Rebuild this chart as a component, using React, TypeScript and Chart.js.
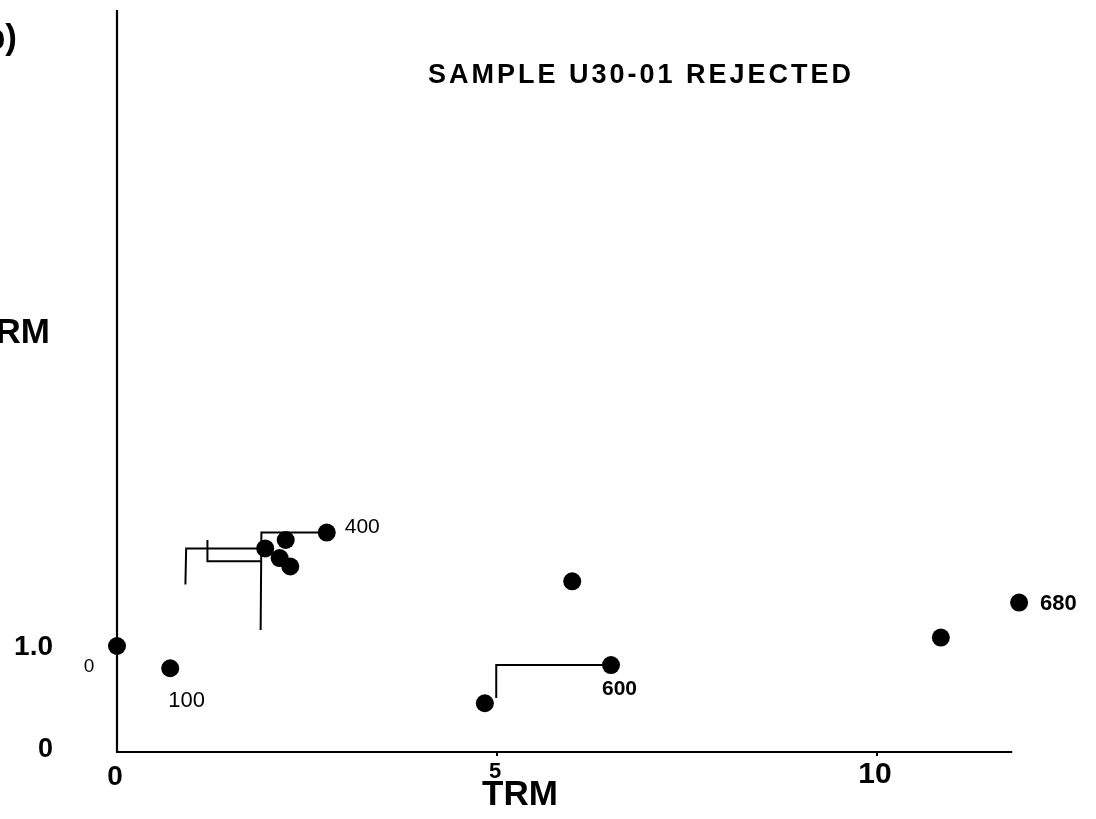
import React, { useEffect, useRef } from "react";
import { Chart, registerables } from "chart.js";

Chart.register(...registerables);

// Arai plot: NRM remaining versus TRM gained, one point per temperature step
const trmValues = [0, 0.7, 1.95, 2.14, 2.28, 2.22, 2.76, 5.99, 4.84, 6.5, 10.84, 11.87];
const nrmValues = [1.0, 0.79, 1.92, 1.83, 1.75, 2.0, 2.07, 1.61, 0.46, 0.82, 1.08, 1.41];
const stepLabels = ["0", "100", "", "", "", "", "400", "", "", "600", "", "680"];

// pTRM check traces (start point, corner, end)
const checkTrm = [
  [2.76, 1.9, 1.89],
  [1.95, 0.91, 0.9],
  [1.9, 1.19, 1.19],
  [6.5, 4.99, 4.99],
];
const checkNrm = [
  [2.07, 2.07, 1.15],
  [1.92, 1.92, 1.58],
  [1.8, 1.8, 2.0],
  [0.82, 0.82, 0.51],
];

const xTickValues = [0, 5, 10];
const xTickLabels = ["0", "5", "10"];
const yTickValues = [0, 1.0];
const yTickLabels = ["0", "1.0"];

const titleText = "SAMPLE U30-01 REJECTED";
const xTitle = "TRM";
const yTitle = "NRM";
const panelTag = "b)";

const X_MIN = 0;
const X_MAX = 12.2;
const Y_MIN = 0;
const Y_MAX = 7.0;
const X_AXIS_END = 11.78;

const SANS = '"Liberation Sans", Arial, Helvetica, sans-serif';

// label placement per step: [dx, dy, align, font]
const stepLabelStyle: Record<string, [number, number, CanvasTextAlign, string]> = {
  "0": [-28, 26, "center", `19px ${SANS}`],
  "100": [-2, 39, "left", `22px ${SANS}`],
  "400": [18, 0, "left", `21px ${SANS}`],
  "600": [-9, 30, "left", `bold 21px ${SANS}`],
  "680": [21, 7, "left", `bold 22px ${SANS}`],
};

const decorPlugin = {
  id: "araiDecor",
  afterDatasetsDraw(chart: any) {
    const { ctx, scales } = chart;
    const xs = scales.x;
    const ys = scales.y;
    const x0 = xs.getPixelForValue(0);
    const y0 = ys.getPixelForValue(0);
    ctx.save();
    ctx.strokeStyle = "#000";
    ctx.fillStyle = "#000";
    ctx.lineWidth = 2.2;
    ctx.lineCap = "butt";

    // axes
    ctx.beginPath();
    ctx.moveTo(x0, ys.getPixelForValue(Y_MAX));
    ctx.lineTo(x0, y0 + 1);
    ctx.moveTo(x0 - 1, y0);
    ctx.lineTo(xs.getPixelForValue(X_AXIS_END), y0);
    ctx.stroke();

    // small tick marks below the x axis
    ctx.lineWidth = 2;
    xTickValues.forEach((v) => {
      if (v === 0) return;
      const px = xs.getPixelForValue(v);
      ctx.beginPath();
      ctx.moveTo(px, y0);
      ctx.lineTo(px, y0 + 4);
      ctx.stroke();
    });

    // x tick labels
    ctx.textBaseline = "alphabetic";
    ctx.textAlign = "center";
    const xFonts = [`bold 28px ${SANS}`, `bold 22px ${SANS}`, `bold 30px ${SANS}`];
    const xBase = [785, 778, 783];
    xTickValues.forEach((v, i) => {
      ctx.font = xFonts[i];
      ctx.fillText(xTickLabels[i], xs.getPixelForValue(v) - 2, xBase[i]);
    });

    // y tick labels
    ctx.textAlign = "right";
    const yFonts = [`bold 27px ${SANS}`, `bold 28px ${SANS}`];
    const yShift = [5, 9];
    yTickValues.forEach((v, i) => {
      ctx.font = yFonts[i];
      ctx.fillText(yTickLabels[i], 53, ys.getPixelForValue(v) + yShift[i]);
    });

    // axis titles
    ctx.font = `bold 35px ${SANS}`;
    ctx.textAlign = "left";
    ctx.fillText(xTitle, 482, 805);
    ctx.textAlign = "right";
    ctx.fillText(yTitle, 50, 343);

    // panel tag
    ctx.font = `bold 35px ${SANS}`;
    ctx.fillText(panelTag, 17, 49);

    // title
    ctx.textAlign = "left";
    ctx.font = `bold 27px ${SANS}`;
    (ctx as any).letterSpacing = "3px";
    ctx.fillText(titleText, 428, 83);
    (ctx as any).letterSpacing = "0px";

    // temperature step labels
    stepLabels.forEach((lab, i) => {
      if (!lab) return;
      const st = stepLabelStyle[lab];
      const px = xs.getPixelForValue(trmValues[i]);
      const py = ys.getPixelForValue(nrmValues[i]);
      ctx.font = st[3];
      ctx.textAlign = st[2];
      ctx.fillText(lab, px + st[0], py + st[1]);
    });

    ctx.restore();
  },
};

export default function App() {
  const canvasRef = useRef<HTMLCanvasElement | null>(null);

  useEffect(() => {
    const canvas = canvasRef.current;
    if (!canvas) return;

    const checkSets = checkTrm.map((tx, k) => ({
      type: "line" as const,
      data: tx.map((x, j) => ({ x, y: checkNrm[k][j] })),
      borderColor: "#000",
      borderWidth: 2,
      pointRadius: 0,
      fill: false,
      tension: 0,
      clip: false as any,
    }));

    const chart = new Chart(canvas, {
      type: "scatter",
      data: {
        datasets: [
          ...checkSets,
          {
            type: "scatter" as const,
            data: trmValues.map((x, i) => ({ x, y: nrmValues[i] })),
            backgroundColor: "#000",
            borderColor: "#000",
            pointRadius: 9,
            pointHoverRadius: 9,
            borderWidth: 0,
            clip: false as any,
          },
        ] as any,
      },
      options: {
        responsive: false,
        animation: false,
        devicePixelRatio: 1,
        layout: { padding: { left: 117, right: 51.8, top: 10, bottom: 67 } },
        plugins: {
          legend: { display: false },
          tooltip: { enabled: false },
          title: { display: false },
        },
        scales: {
          x: { type: "linear", min: X_MIN, max: X_MAX, display: false },
          y: { type: "linear", min: Y_MIN, max: Y_MAX, display: false },
        },
      },
      plugins: [decorPlugin],
    });

    return () => chart.destroy();
  }, []);

  return (
    <div style={{ position: "fixed", left: 0, top: 0, width: 1096, height: 819, background: "#fff" }}>
      <canvas ref={canvasRef} width={1096} height={819} style={{ display: "block" }} />
    </div>
  );
}
